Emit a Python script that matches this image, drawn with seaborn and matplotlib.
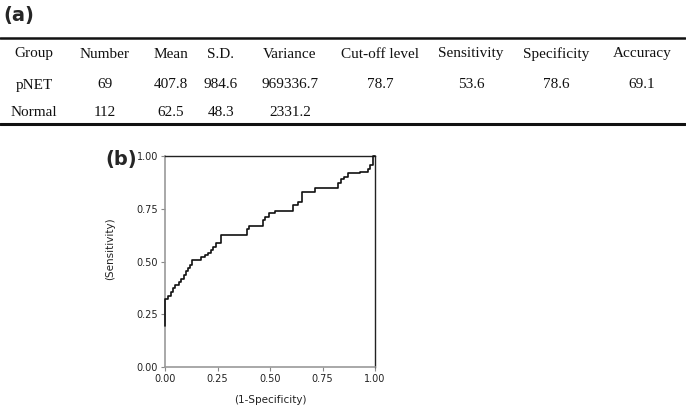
import numpy as np
import pandas as pd
import matplotlib
matplotlib.use("Agg")
import matplotlib.pyplot as plt
import seaborn as sns

# table (a)
columns = ["Group", "Number", "Mean", "S.D.", "Variance", "Cut-off level",
           "Sensitivity", "Specificity", "Accuracy"]
row_pnet = ["pNET", "69", "407.8", "984.6", "969336.7", "78.7", "53.6", "78.6", "69.1"]
row_normal = ["Normal", "112", "62.5", "48.3", "2331.2", "", "", "", ""]

# ROC curve (b), step vertices
fpr = [0.000, 0.000, 0.014, 0.030, 0.038, 0.046, 0.067, 0.078, 0.090, 0.098,
       0.110, 0.120, 0.130, 0.173, 0.189, 0.205, 0.220, 0.229, 0.244, 0.265,
       0.389, 0.400, 0.465, 0.476, 0.497, 0.524, 0.608, 0.635, 0.651, 0.714,
       0.825, 0.838, 0.854, 0.870, 0.929, 0.965, 0.976, 0.992, 1.000]
tpr = [0.194, 0.321, 0.338, 0.357, 0.373, 0.389, 0.404, 0.416, 0.436, 0.455,
       0.468, 0.483, 0.507, 0.520, 0.531, 0.542, 0.555, 0.570, 0.586, 0.626,
       0.652, 0.668, 0.697, 0.712, 0.728, 0.741, 0.768, 0.783, 0.831, 0.850,
       0.870, 0.889, 0.902, 0.918, 0.926, 0.940, 0.957, 1.000, 1.000]
ticks = [0.0, 0.25, 0.5, 0.75, 1.0]

sns.set_theme(style="white")
plt.rcParams["font.family"] = ["DejaVu Sans"]

W, H = 686, 405
fig = plt.figure(figsize=(W / 100, H / 100), dpi=100)

def fx(px):
    return px / W

def fy(py):
    return 1 - py / H

# panel labels
fig.text(fx(3), fy(16), "(a)", fontsize=14, fontweight="bold", va="center", ha="left")
fig.text(fx(105), fy(159), "(b)", fontsize=14, fontweight="bold", va="center", ha="left")

# table
col_x = [34, 105, 171, 221, 290, 380, 471, 556, 642]
serif = dict(family="Liberation Serif", fontsize=11, ha="center", va="center", color="#111111")
for cx, txt in zip(col_x, columns):
    fig.text(fx(cx), fy(54), txt, **serif)
for cx, txt in zip(col_x, row_pnet):
    fig.text(fx(cx), fy(85), txt, **serif)
for cx, txt in zip(col_x, row_normal):
    fig.text(fx(cx), fy(112), txt, **serif)
fig.add_artist(plt.Line2D([0, fx(685)], [fy(38), fy(38)], color="#111111", lw=1.8))
fig.add_artist(plt.Line2D([0, fx(685)], [fy(124), fy(124)], color="#111111", lw=2.2))

# ROC plot
ax = fig.add_axes([fx(165), fy(367), fx(375) - fx(165), fy(156) - fy(367)])
roc = pd.DataFrame({"fpr": fpr, "tpr": tpr})
sns.lineplot(data=roc, x="fpr", y="tpr", ax=ax, estimator=None, sort=False,
             drawstyle="steps-post", color="#111111", lw=1.2)
ax.lines[0].set_zorder(3)
ax.lines[0].set_clip_on(False)
ax.set_xlim(0, 1)
ax.set_ylim(0, 1)
ax.set_xticks(ticks)
ax.set_yticks(ticks)
ax.set_xticklabels([f"{t:.2f}" for t in ticks])
ax.set_yticklabels([f"{t:.2f}" for t in ticks])
ax.tick_params(axis="both", which="both", direction="out", length=3, width=0.8,
               color="#888888", labelsize=7, labelcolor="#222222", pad=2,
               bottom=True, left=True)
for side in ["top", "right"]:
    ax.spines[side].set_color("#222222")
    ax.spines[side].set_linewidth(1.0)
for side in ["left", "bottom"]:
    ax.spines[side].set_color("#999999")
    ax.spines[side].set_linewidth(1.2)
ax.set_xlabel("(1-Specificity)", fontsize=7.5, color="#222222")
ax.set_ylabel("(Sensitivity)", fontsize=7.5, color="#222222")
ax.xaxis.set_label_coords(0.5, -0.135)
ax.yaxis.set_label_coords(-0.238, 0.56)
ax.grid(False)

fig.savefig("out.png", dpi=100)
